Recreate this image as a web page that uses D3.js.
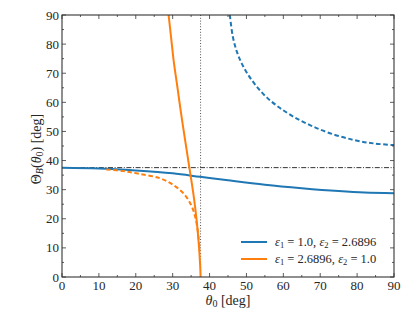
<!DOCTYPE html>
<html>
<head>
<meta charset="utf-8">
<script src="https://cdn.jsdelivr.net/npm/d3@7"></script>
<style>
  body { margin: 0; background: #fff; }
  svg text { font-family: "Liberation Serif", serif; }
</style>
</head>
<body>
<script>
// values (degrees)
const criticalAngle = 37.57;
const xTicks = [0, 10, 20, 30, 40, 50, 60, 70, 80, 90];
const yTicks = [0, 10, 20, 30, 40, 50, 60, 70, 80, 90];

// eps1 = 1.0, eps2 = 2.6896
const blueSolidX = [0, 10, 20, 30, 37.5, 45, 55, 65, 75, 82, 90];
const blueSolidY = [37.57, 37.3, 36.6, 35.6, 34.4, 33.2, 31.7, 30.5, 29.5, 29.0, 28.8];
const blueDashX = [45.5, 46.3, 47.4, 48.7, 50.5, 52.8, 55.5, 58.6, 62.7, 67.2, 72.6, 79, 84.4, 90];
const blueDashY = [90, 82.6, 77.4, 73.4, 69.4, 65.4, 61.7, 58.5, 55.1, 52.2, 49.4, 47.1, 45.9, 45.3];

// eps1 = 2.6896, eps2 = 1.0
const orangeSolidX = [28.9, 29.6, 30.3, 31.2, 32.3, 33.5, 34.6, 35.6, 36.5, 37.1, 37.45, 37.57];
const orangeSolidY = [90, 82, 74, 66, 56, 46, 37, 28.7, 19.5, 11, 4, 0];
const orangeDashX = [12, 16.6, 21.1, 26.6, 30.2, 33.3, 35.2, 36.3, 37.0, 37.3];
const orangeDashY = [36.9, 36.4, 35.4, 33.9, 31.6, 28.2, 24.2, 19.6, 13.8, 9];

const width = 415;
const height = 312;
const margin = { top: 15, right: 21, bottom: 35, left: 62 };
const plotW = width - margin.left - margin.right;
const plotH = height - margin.top - margin.bottom;

const blue = "#1f77b4";
const orange = "#ff7f0e";

const svg = d3.select("body").append("svg")
  .attr("width", width)
  .attr("height", height)
  .attr("fill", "#262626");

const x = d3.scaleLinear().domain([0, 90]).range([0, plotW]);
const y = d3.scaleLinear().domain([0, 90]).range([plotH, 0]);

const g = svg.append("g")
  .attr("transform", `translate(${margin.left},${margin.top})`);

g.append("clipPath").attr("id", "clip")
  .append("rect").attr("width", plotW).attr("height", plotH);

const plot = g.append("g").attr("clip-path", "url(#clip)");

// reference lines
plot.append("line")
  .attr("x1", 0).attr("x2", plotW)
  .attr("y1", y(criticalAngle)).attr("y2", y(criticalAngle))
  .attr("stroke", "#333").attr("stroke-width", 1)
  .attr("stroke-dasharray", "5,1.6,1,1.6");

plot.append("line")
  .attr("x1", x(criticalAngle)).attr("x2", x(criticalAngle))
  .attr("y1", 0).attr("y2", plotH)
  .attr("stroke", "#555").attr("stroke-width", 1)
  .attr("stroke-dasharray", "1,1.8");

const line = d3.line()
  .x(d => x(d[0]))
  .y(d => y(d[1]))
  .curve(d3.curveCatmullRom);

const series = [
  { xs: blueSolidX, ys: blueSolidY, color: blue, dash: null },
  { xs: blueDashX, ys: blueDashY, color: blue, dash: "4.5,2.6" },
  { xs: orangeSolidX, ys: orangeSolidY, color: orange, dash: null },
  { xs: orangeDashX, ys: orangeDashY, color: orange, dash: "4.5,2.6" }
];

series.forEach(s => {
  plot.append("path")
    .datum(s.xs.map((v, i) => [v, s.ys[i]]))
    .attr("d", line)
    .attr("fill", "none")
    .attr("stroke", s.color)
    .attr("stroke-width", 2)
    .attr("stroke-dasharray", s.dash);
});

// ticks, inward on all four sides, major every 10 and minor every 5
const minor = d3.range(5, 90, 10);
const tickG = g.append("g").attr("stroke", "#333").attr("stroke-width", 0.8);
function ticks(vals, len) {
  vals.forEach(v => {
    tickG.append("line").attr("x1", x(v)).attr("x2", x(v)).attr("y1", plotH).attr("y2", plotH - len);
    tickG.append("line").attr("x1", x(v)).attr("x2", x(v)).attr("y1", 0).attr("y2", len);
    tickG.append("line").attr("y1", y(v)).attr("y2", y(v)).attr("x1", 0).attr("x2", len);
    tickG.append("line").attr("y1", y(v)).attr("y2", y(v)).attr("x1", plotW).attr("x2", plotW - len);
  });
}
ticks(xTicks, 4);
ticks(minor, 2);

// frame
g.append("rect")
  .attr("width", plotW).attr("height", plotH)
  .attr("fill", "none").attr("stroke", "#333").attr("stroke-width", 1.1);

// tick labels
g.selectAll(".xl").data(xTicks).enter().append("text")
  .attr("x", d => x(d)).attr("y", plotH + 13)
  .attr("text-anchor", "middle").attr("font-size", 13)
  .text(d => d);

g.selectAll(".yl").data(yTicks).enter().append("text")
  .attr("x", -3).attr("y", d => y(d) + 4.5)
  .attr("text-anchor", "end").attr("font-size", 13)
  .text(d => d);

// axis labels
const xl = svg.append("text")
  .attr("x", 228).attr("y", 305)
  .attr("text-anchor", "middle").attr("font-size", 14);
xl.append("tspan").attr("font-style", "italic").text("θ");
xl.append("tspan").attr("font-size", 10).attr("dy", 2).text("0");
xl.append("tspan").attr("dy", -2).text(" [deg]");

const yl = svg.append("text")
  .attr("transform", "translate(41,149) rotate(-90)")
  .attr("text-anchor", "middle").attr("font-size", 14);
yl.append("tspan").text("Θ");
yl.append("tspan").attr("font-size", 10).attr("font-style", "italic").attr("dy", 2).text("B");
yl.append("tspan").attr("dy", -2).text("(");
yl.append("tspan").attr("font-style", "italic").text("θ");
yl.append("tspan").attr("font-size", 10).attr("dy", 2).text("0");
yl.append("tspan").attr("dy", -2).text(") [deg]");

// legend
const legendItems = [
  { color: blue, e1: "1.0", e2: "2.6896" },
  { color: orange, e1: "2.6896", e2: "1.0" }
];
legendItems.forEach((d, i) => {
  const ly = 242 + i * 17;
  svg.append("line")
    .attr("x1", 241).attr("x2", 267).attr("y1", ly).attr("y2", ly)
    .attr("stroke", d.color).attr("stroke-width", 2);
  const t = svg.append("text")
    .attr("x", 275).attr("y", ly + 4).attr("font-size", 12.5);
  t.append("tspan").attr("font-style", "italic").text("ε");
  t.append("tspan").attr("font-size", 8.5).attr("dy", 2).text("1");
  t.append("tspan").attr("dy", -2).text(` = ${d.e1}, `);
  t.append("tspan").attr("font-style", "italic").text("ε");
  t.append("tspan").attr("font-size", 8.5).attr("dy", 2).text("2");
  t.append("tspan").attr("dy", -2).text(` = ${d.e2}`);
});
</script>
</body>
</html>
